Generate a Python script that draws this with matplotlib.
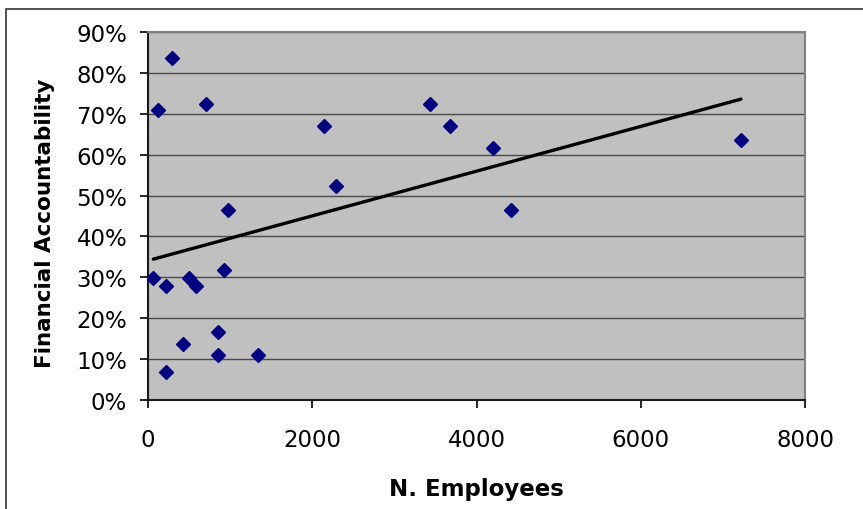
import matplotlib
matplotlib.use("Agg")
import matplotlib.pyplot as plt
import numpy as np
from matplotlib.patches import Rectangle
from matplotlib.ticker import FuncFormatter

# ============================================================
# Data
# ============================================================

employees = [289, 126, 707, 2138, 3439, 2293, 972, 65, 220, 504, 585,
             930, 850, 431, 850, 1338, 220, 3683, 4199, 4415, 7220]
accountability = [0.836, 0.709, 0.723, 0.670, 0.723, 0.523, 0.464, 0.298,
                  0.278, 0.299, 0.278, 0.318, 0.166, 0.137, 0.111, 0.111,
                  0.068, 0.670, 0.617, 0.464, 0.636]

x_ticks = [0, 2000, 4000, 6000, 8000]
y_ticks = [0.0, 0.1, 0.2, 0.3, 0.4, 0.5, 0.6, 0.7, 0.8, 0.9]

# ============================================================
# Figure
# ============================================================

W, H = 863, 510
fig = plt.figure(figsize=(W / 100, H / 100), dpi=100)
fig.patch.set_facecolor("white")

# chart-area border (open at right and bottom, as in the reference)
fig.patches.append(Rectangle((6 / W, -0.1), 1.2, (H - 10) / H + 0.1,
                             transform=fig.transFigure, fill=False,
                             edgecolor="#333333", linewidth=1.2))

ax = fig.add_axes([148 / W, 1 - 401 / H, 657 / W, 368 / H])
ax.set_facecolor("#c0c0c0")

ax.set_xlim(0, 8000)
ax.set_ylim(0, 0.9)
ax.set_xticks(x_ticks)
ax.set_yticks(y_ticks)
ax.yaxis.set_major_formatter(FuncFormatter(lambda v, _: f"{v * 100:.0f}%"))

ax.grid(axis="y", color="#4a4a4a", linewidth=1.0)
ax.set_axisbelow(True)

for side in ("top", "right"):
    ax.spines[side].set_color("#808080")
    ax.spines[side].set_linewidth(1.5)
for side in ("left", "bottom"):
    ax.spines[side].set_color("#1a1a1a")
    ax.spines[side].set_linewidth(1.5)

ax.tick_params(axis="both", direction="out", length=6, width=1.2,
               colors="black", labelsize=16.5)
ax.tick_params(axis="y", pad=9)
ax.tick_params(axis="x", pad=14)

# scatter points
ax.plot(employees, accountability, linestyle="none", marker="D",
        markersize=7, color="#000080", zorder=3)

# linear trendline
x_arr = np.array(employees, dtype=float)
slope, intercept = np.polyfit(x_arr, np.array(accountability), 1)
trend_x = np.array([x_arr.min(), x_arr.max()])
ax.plot(trend_x, slope * trend_x + intercept, color="black",
        linewidth=2.4, solid_capstyle="round", zorder=4)

ax.set_xlabel("N. Employees", fontsize=16.5, fontweight="bold")
ax.xaxis.set_label_coords(0.5, -0.21)
ax.set_ylabel("Financial Accountability", fontsize=15.5, fontweight="bold",
              va="center")
ax.yaxis.set_label_coords(-0.157, 0.484)

fig.savefig("out.png", dpi=100)
